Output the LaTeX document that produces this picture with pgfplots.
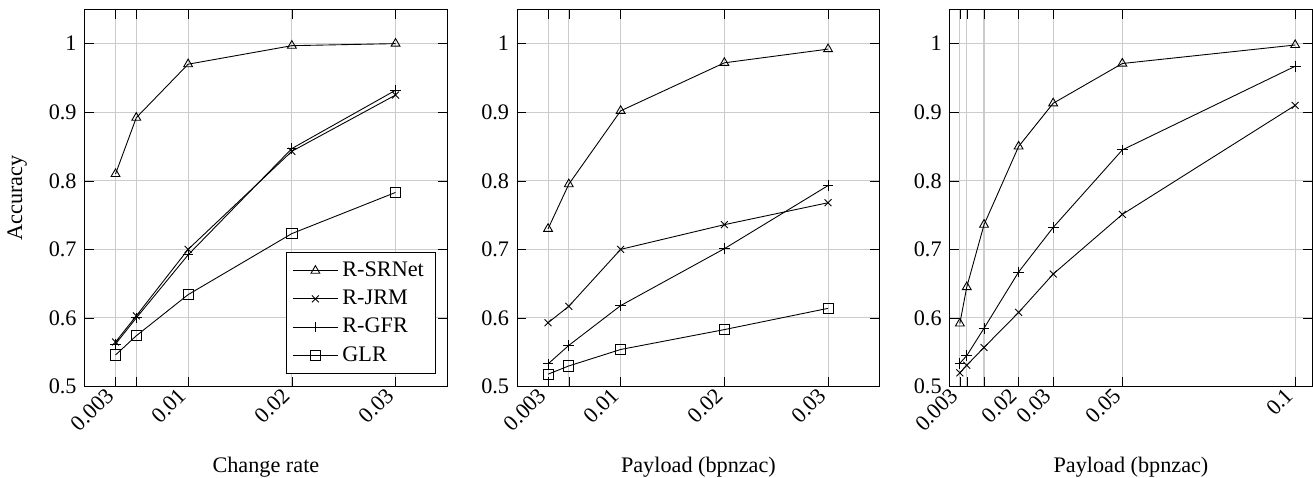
\documentclass[border=0pt]{standalone}
\usepackage{fontspec}
\setmainfont{Liberation Serif}
\usepackage{pgfplots}
\pgfplotsset{compat=1.18}
\pgfplotsset{
  base/.style={
    scale only axis, width=163.4pt, height=169.8pt,
    xmin=0, ymin=0.5, ymax=1.05,
    ytick={0.5,0.6,0.7,0.8,0.9,1},
    grid=major, grid style={gray!40, line width=0.5pt},
    scaled x ticks=false, scaled y ticks=false,
    /pgf/number format/assume math mode=true,
    x tick label style={rotate=45, anchor=east},
    xlabel style={at={(axis description cs:0.5,0)}, anchor=north, inner sep=0pt, yshift=-31.5pt},
    tick style={black},
  },
  srnet/.style={black, mark=triangle, mark size=2.3pt},
  jrm/.style={black, mark=x, mark size=2.2pt},
  gfr/.style={black, mark=+, mark size=2.4pt},
  glr/.style={black, mark=square, mark size=2.3pt},
}
\begin{document}
\begin{tikzpicture}
\begin{axis}[base, name=a1, xmax=0.035,
  xtick={0.003,0.005,0.01,0.02,0.03}, xticklabels={0.003,,0.01,0.02,0.03},
  xlabel={Change rate}, ylabel={Accuracy},
  ylabel style={at={(axis description cs:-0.137,0.5)}, anchor=south},
  legend style={at={(0.967,0.034)}, anchor=south east, draw=black, font=\normalsize, cells={anchor=west}, row sep=0.6pt},
  legend image code/.code={\draw[mark repeat=2,mark phase=2] plot coordinates {(0cm,0cm) (0.35cm,0cm) (0.7cm,0cm)};},
  legend cell align=left]
\addplot[srnet] coordinates {(0.003,0.810) (0.005,0.892) (0.01,0.970) (0.02,0.997) (0.03,1.000)};
\addlegendentry{R-SRNet}
\addplot[jrm] coordinates {(0.003,0.565) (0.005,0.603) (0.01,0.700) (0.02,0.843) (0.03,0.925)};
\addlegendentry{R-JRM}
\addplot[gfr] coordinates {(0.003,0.562) (0.005,0.600) (0.01,0.692) (0.02,0.847) (0.03,0.932)};
\addlegendentry{R-GFR}
\addplot[glr] coordinates {(0.003,0.546) (0.005,0.574) (0.01,0.634) (0.02,0.723) (0.03,0.783)};
\addlegendentry{GLR}
\end{axis}
\begin{axis}[base, at={(194.7pt,0)}, xmax=0.035,
  xtick={0.003,0.005,0.01,0.02,0.03}, xticklabels={0.003,,0.01,0.02,0.03},
  xlabel={Payload (bpnzac)}]
\addplot[srnet] coordinates {(0.003,0.730) (0.005,0.795) (0.01,0.902) (0.02,0.972) (0.03,0.992)};
\addplot[jrm] coordinates {(0.003,0.593) (0.005,0.617) (0.01,0.700) (0.02,0.736) (0.03,0.768)};
\addplot[gfr] coordinates {(0.003,0.533) (0.005,0.560) (0.01,0.618) (0.02,0.701) (0.03,0.793)};
\addplot[glr] coordinates {(0.003,0.518) (0.005,0.530) (0.01,0.554) (0.02,0.583) (0.03,0.614)};
\end{axis}
\begin{axis}[base, at={(389.4pt,0)}, xmax=0.105,
  xtick={0.003,0.005,0.01,0.02,0.03,0.05,0.1}, xticklabels={0.003,,,0.02,0.03,0.05,0.1},
  xlabel={Payload (bpnzac)}]
\addplot[srnet] coordinates {(0.003,0.592) (0.005,0.645) (0.01,0.736) (0.02,0.850) (0.03,0.913) (0.05,0.971) (0.1,0.998)};
\addplot[jrm] coordinates {(0.003,0.520) (0.005,0.531) (0.01,0.557) (0.02,0.608) (0.03,0.664) (0.05,0.751) (0.1,0.910)};
\addplot[gfr] coordinates {(0.003,0.534) (0.005,0.545) (0.01,0.585) (0.02,0.667) (0.03,0.732) (0.05,0.845) (0.1,0.967)};
\end{axis}
\path ([yshift=4.2pt]a1.north west);
\end{tikzpicture}
\end{document}
